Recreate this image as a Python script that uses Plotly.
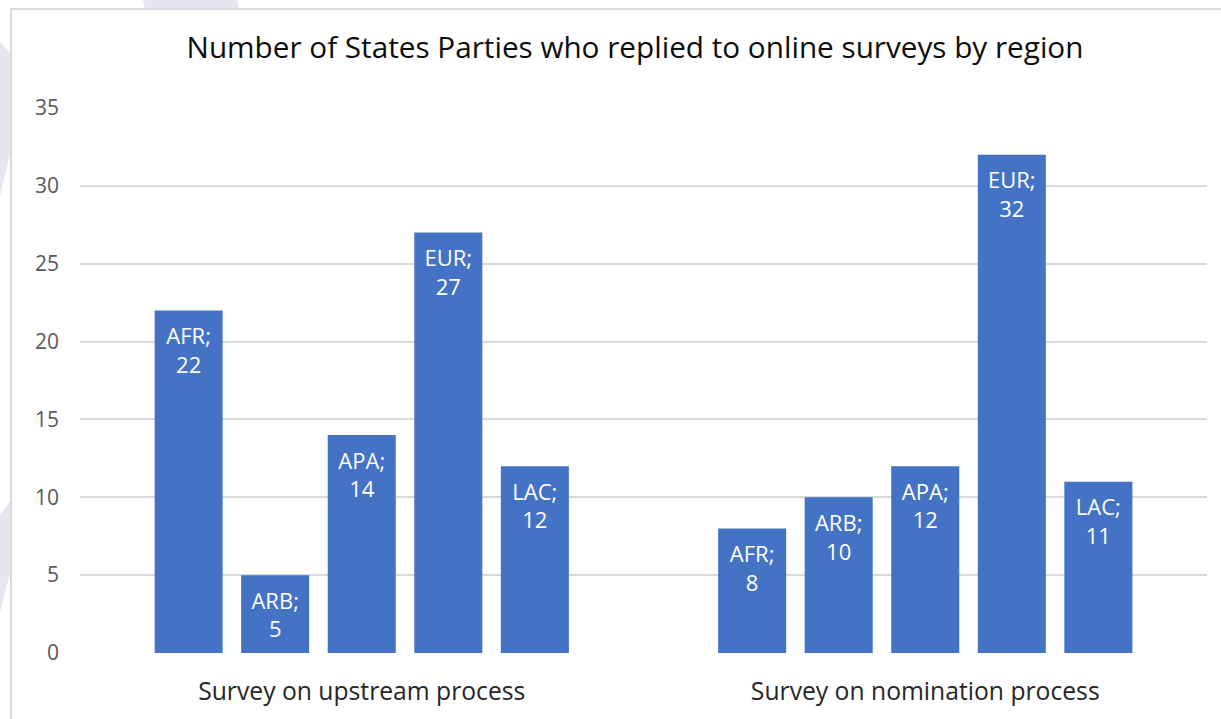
import plotly.graph_objects as go

categories = ["Survey on upstream process", "Survey on nomination process"]
regions = ["AFR", "ARB", "APA", "EUR", "LAC"]
afr = [22, 8]
arb = [5, 10]
apa = [14, 12]
eur = [27, 32]
lac = [12, 11]
series = [afr, arb, apa, eur, lac]

title = "Number of States Parties who replied to online surveys by region"
yticks = [0, 5, 10, 15, 20, 25, 30, 35]

BAR = "#4472C4"
FONT = "Open Sans"

W, H = 1221, 719
L, R, T, B = 80, 14, 108, 66
PW = W - L - R
PH = H - T - B


def px(x):
    return (x - L) / PW


def py(y):
    return (H - B - y) / PH


fig = go.Figure()
for name, vals in zip(regions, series):
    fig.add_trace(go.Bar(
        x=categories,
        y=vals,
        name=name,
        offsetgroup=name,
        marker=dict(color=BAR, line=dict(width=0)),
        showlegend=False,
        hoverinfo="skip",
    ))
# data labels ("REGION;<br>value") placed just inside the top of each bar
for name, vals in zip(regions, series):
    fig.add_trace(go.Scatter(
        x=categories,
        y=vals,
        name=name + " label",
        offsetgroup=name,
        mode="markers+text",
        marker=dict(size=26, opacity=0, color=BAR),
        text=[f"{name};<br>{v}" for v in vals],
        textposition="bottom center",
        textfont=dict(family=FONT, size=22, color="white"),
        showlegend=False,
        hoverinfo="skip",
        cliponaxis=False,
    ))

shapes = []
lav = "#E6E6F0"
# decorative background pieces outside the chart frame
shapes.append(dict(type="path", xref="paper", yref="paper", layer="below",
                   path=f"M {px(0)},{py(42)} L {px(11)},{py(55)} L {px(11)},{py(150)} L {px(0)},{py(196)} Z",
                   fillcolor=lav, line=dict(width=0)))
shapes.append(dict(type="path", xref="paper", yref="paper", layer="below",
                   path=f"M {px(0)},{py(515)} L {px(11)},{py(500)} L {px(11)},{py(570)} L {px(0)},{py(612)} Z",
                   fillcolor=lav, line=dict(width=0)))
shapes.append(dict(type="path", xref="paper", yref="paper", layer="below",
                   path=f"M {px(143)},{py(0)} L {px(237)},{py(0)} L {px(240)},{py(9)} L {px(145)},{py(9)} Z",
                   fillcolor=lav, line=dict(width=0)))
# chart frame (top and left edges)
shapes.append(dict(type="line", xref="paper", yref="paper", layer="below",
                   x0=px(10), y0=py(9), x1=px(1221), y1=py(9),
                   line=dict(color="#D9D9D9", width=2)))
shapes.append(dict(type="line", xref="paper", yref="paper", layer="below",
                   x0=px(11), y0=py(8), x1=px(11), y1=py(719),
                   line=dict(color="#D9D9D9", width=2)))

fig.update_layout(
    width=W, height=H,
    margin=dict(l=L, r=R, t=T, b=B, pad=0),
    paper_bgcolor="white",
    plot_bgcolor="rgba(0,0,0,0)",
    barmode="group",
    bargap=0.232,
    bargroupgap=0.214,
    scattermode="group",
    scattergap=0.232,
    title=dict(text=title, x=635 / W, xref="container", xanchor="center",
               y=1 - 48 / H, yref="container", yanchor="middle",
               font=dict(family=FONT, size=29.7, color="#0D0D0D")),
    font=dict(family=FONT),
    shapes=shapes,
    xaxis=dict(
        showgrid=False, zeroline=False, showline=False, ticks="",
        tickfont=dict(family=FONT, size=24.7, color="#262626"),
        ticklabelstandoff=21,
    ),
    yaxis=dict(
        range=[0, 35], tickvals=yticks, showgrid=True, gridcolor="#D9D9D9",
        gridwidth=1.5, zeroline=False, showline=False, ticks="",
        tickfont=dict(family=FONT, size=21, color="#595959"),
        ticklabelstandoff=20,
    ),
)

fig.write_html("out.html", post_script="document.body.style.margin='0';",
               config={"displayModeBar": False})
